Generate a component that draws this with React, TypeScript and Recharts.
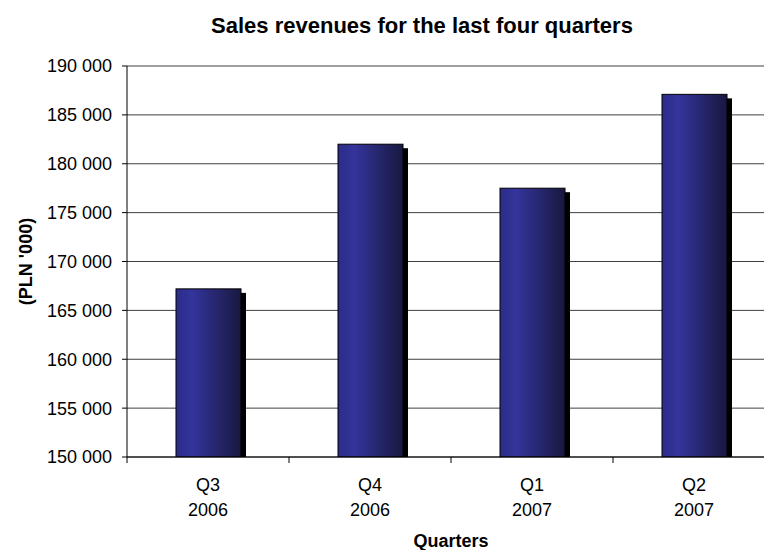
import React from "react";
import { BarChart, Bar, XAxis, YAxis, CartesianGrid } from "recharts";

const quarters = ["Q3", "Q4", "Q1", "Q2"];
const years = ["2006", "2006", "2007", "2007"];
const revenues = [167200, 182000, 177500, 187100];
const yTicks = [150000, 155000, 160000, 165000, 170000, 175000, 180000, 185000, 190000];

const data = quarters.map((q, i) => ({ name: q + " " + years[i], q, year: years[i], revenue: revenues[i] }));

const FONT = "'Liberation Sans', Arial, sans-serif";

const fmt = (v: number) => {
  const s = String(Math.round(v));
  return s.replace(/\B(?=(\d{3})+(?!\d))/g, " ");
};

const BarShape = (props: any) => {
  const { x, y, width, height } = props;
  if (width == null || height == null) return null;
  return (
    <g>
      <rect x={x + 5} y={y + 4} width={width} height={Math.max(0, height - 4)} fill="#000" />
      <rect x={x} y={y} width={width} height={height} fill="url(#barGrad)" stroke="#000" strokeWidth={1} />
    </g>
  );
};

const XTick = (props: any) => {
  const { x, y, payload, index, width } = props;
  const d = data[index] || data.find((e) => e.name === payload.value);
  const catW = (width || 648) / data.length;
  const half = catW / 2;
  return (
    <g>
      <line x1={x - half} x2={x - half} y1={y} y2={y + 6} stroke="#000" />
      {index === data.length - 1 && <line x1={x + half} x2={x + half} y1={y} y2={y + 6} stroke="#000" />}
      <text x={x} y={y + 34} textAnchor="middle" fontFamily={FONT} fontSize={18} fill="#000">{d ? d.q : ""}</text>
      <text x={x} y={y + 59} textAnchor="middle" fontFamily={FONT} fontSize={18} fill="#000">{d ? d.year : ""}</text>
    </g>
  );
};

export default function App() {
  return (
    <div style={{ position: "absolute", left: 0, top: 0, width: 764, height: 550, overflow: "hidden", background: "#fff" }}>
      <BarChart width={790} height={550} data={data} margin={{ top: 66, right: 15, bottom: 0, left: 0 }}>
        <defs>
          <linearGradient id="barGrad" x1="0" y1="0" x2="1" y2="0">
            <stop offset="0%" stopColor="#2c2c88" />
            <stop offset="25%" stopColor="#34349c" />
            <stop offset="100%" stopColor="#18183f" />
          </linearGradient>
        </defs>
        <CartesianGrid horizontal vertical={false} stroke="#404040" />
        <XAxis
          dataKey="name"
          height={93}
          tickLine={false}
          tickSize={0}
          tickMargin={0}
          axisLine={{ stroke: "#000" }}
          tick={<XTick />}
          interval={0}
        />
        <YAxis
          width={127}
          domain={[150000, 190000]}
          ticks={yTicks}
          interval={0}
          tickFormatter={fmt}
          tickSize={5}
          tickMargin={10}
          axisLine={{ stroke: "#000" }}
          tickLine={{ stroke: "#000" }}
          tick={{ fontFamily: FONT, fontSize: 18, fill: "#000" }}
          allowDataOverflow
        />
        <Bar dataKey="revenue" barSize={65} shape={<BarShape />} isAnimationActive={false} />
      </BarChart>
      <svg width={764} height={550} style={{ position: "absolute", left: 0, top: 0, pointerEvents: "none" }}>
        <text x={422} y={33} textAnchor="middle" fontFamily={FONT} fontSize={22} fontWeight="bold" fill="#000">
          Sales revenues for the last four quarters
        </text>
        <text x={451} y={547} textAnchor="middle" fontFamily={FONT} fontSize={18} fontWeight="bold" fill="#000">
          Quarters
        </text>
        <text
          x={26}
          y={261.5}
          textAnchor="middle"
          dominantBaseline="central"
          transform="rotate(-90 26 261.5)"
          fontFamily={FONT}
          fontSize={18}
          fontWeight="bold"
          fill="#000"
        >
          (PLN '000)
        </text>
      </svg>
    </div>
  );
}
